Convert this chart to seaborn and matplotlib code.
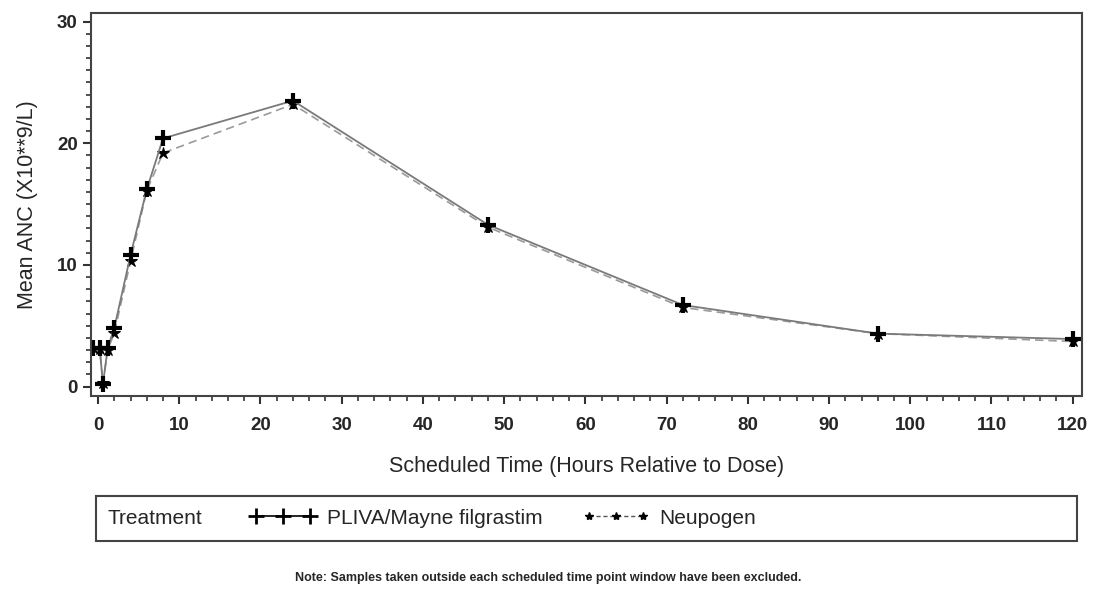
import numpy as np
import pandas as pd
import seaborn as sns
import matplotlib.pyplot as plt
from matplotlib.lines import Line2D
from matplotlib.patches import Rectangle
from matplotlib.ticker import MultipleLocator

# scheduled time points (hours relative to dose)
times = [-0.6, 0.2, 0.6, 1.2, 2, 4, 6, 8, 24, 48, 72, 96, 120]

# mean ANC (x10**9/L) per treatment
pliva_anc = [3.2, 3.2, 0.2, 3.2, 4.8, 10.8, 16.2, 20.4, 23.5, 13.3, 6.7, 4.35, 3.9]
neupogen_anc = [3.2, 3.1, 0.3, 3.0, 4.4, 10.3, 16.1, 19.2, 23.2, 13.1, 6.5, 4.35, 3.7]

treatments = ["PLIVA/Mayne filgrastim", "Neupogen"]

sns.set_style("ticks")
plt.rcParams["font.family"] = ["Liberation Sans", "DejaVu Sans"]

fig = plt.figure(figsize=(10.97, 5.96), dpi=100)
ax = fig.add_axes([0.083, 0.336, 0.903, 0.642])

#Neupogen first so the PLIVA crosses sit on top
sns.lineplot(x=times, y=neupogen_anc, ax=ax, color="#9a9a9a", linewidth=1.2,
             linestyle=(0, (5, 3)), marker="*", markersize=9,
             markerfacecolor="black", markeredgecolor="black", estimator=None)
sns.lineplot(x=times, y=pliva_anc, ax=ax, color="#7a7a7a", linewidth=1.3,
             marker="+", markersize=12, markeredgewidth=3,
             markeredgecolor="black", estimator=None)

ax.set_xlim(-0.86, 121.1)
ax.set_ylim(-0.76, 30.7)
ax.xaxis.set_major_locator(MultipleLocator(10))
ax.xaxis.set_minor_locator(MultipleLocator(2))
ax.yaxis.set_major_locator(MultipleLocator(10))
ax.yaxis.set_minor_locator(MultipleLocator(1))
ax.tick_params(which="major", length=6, width=1.5, color="#333333", labelsize=13.5)
ax.tick_params(axis="x", which="major", pad=9)
ax.tick_params(which="minor", length=3.5, width=1.2, color="#333333")
for lbl in ax.get_xticklabels() + ax.get_yticklabels():
    lbl.set_fontweight("bold")

for sp in ax.spines.values():
    sp.set_visible(True)
    sp.set_linewidth(1.5)
    sp.set_color("#444444")

ax.set_xlabel("Scheduled Time (Hours Relative to Dose)", fontsize=15.5, labelpad=16)
ax.set_ylabel("Mean ANC (X10**9/L)", fontsize=15.5, labelpad=14)

#legend frame spans the plot width
fig.patches.append(Rectangle((96 / 1097, 1 - 541 / 596), (1077 - 96) / 1097, 45 / 596,
                             transform=fig.transFigure, fill=False,
                             edgecolor="#444444", linewidth=1.5))
fig.text(108 / 1097, 1 - 518 / 596, "Treatment", ha="left", va="center", fontsize=15)

handles = [
    Line2D([], [], color="black", linewidth=1.2, marker="+", markersize=11,
           markeredgewidth=2),
    Line2D([], [], color="#555555", linewidth=1.0, linestyle=(0, (3, 2)),
           marker="*", markersize=6, markeredgecolor="black", markerfacecolor="black"),
]
fig.legend(handles, treatments, loc="center left", bbox_to_anchor=(250 / 1097, 1 - 518 / 596),
           ncol=2, frameon=False, fontsize=15, numpoints=3, handlelength=3.2,
           columnspacing=1.9, handletextpad=0.5, borderpad=0, borderaxespad=0)

fig.text(0.5, 1 - 578 / 596,
         "Note: Samples taken outside each scheduled time point window have been excluded.",
         ha="center", va="center", fontsize=9, fontweight="bold")

fig.savefig("out.png", dpi=100)
